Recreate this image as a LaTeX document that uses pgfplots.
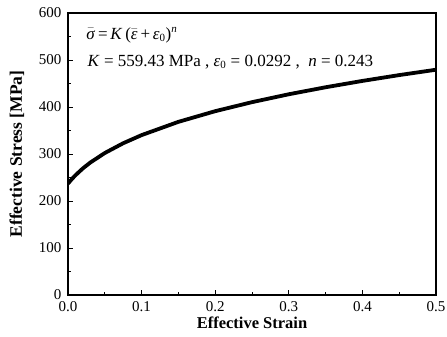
\documentclass[border=0pt]{standalone}
\usepackage{fontspec}
\setmainfont{Liberation Serif}
\usepackage{pgfplots}
\pgfplotsset{compat=1.18}
\begin{document}
\begin{tikzpicture}
\path[use as bounding box] (-68pt,-42pt) rectangle (379pt,295pt);
\begin{axis}[
  at={(0pt,0pt)}, anchor=south west,
  scale only axis,
  width=368pt, height=282pt,
  xmin=0, xmax=0.5, ymin=0, ymax=600,
  xtick={0,0.1,...,0.5},
  ytick={0,100,...,600},
  minor x tick num=1,
  minor y tick num=1,
  tick pos=left,
  tick align=inside,
  major tick length=5pt,
  minor tick length=3pt,
  axis line style={line width=1.2pt},
  every tick/.style={line width=0.8pt, black},
  tick label style={font=\fontsize{15}{16}\selectfont},
  xticklabel style={/pgf/number format/fixed, /pgf/number format/fixed zerofill, /pgf/number format/precision=1, yshift=-3pt},
  /pgf/number format/assume math mode=true,
  yticklabel style={/pgf/number format/fixed, xshift=-3pt},
  scaled x ticks=false,
  xlabel={\fontsize{16.5}{18}\selectfont\textbf{Effective Strain}},
  ylabel={\fontsize{17.5}{19}\selectfont\textbf{Effective Stress [MPa]}},
  xlabel style={at={(axis description cs:0.5,-0.0993)}, anchor=center},
  ylabel style={at={(axis description cs:-0.1386,0.5)}, anchor=center},
]
\addplot[black, line width=3.8pt] coordinates {
(0,237.0) (0.005,246.3) (0.01,254.6) (0.02,269.1) (0.03,281.5) (0.05,302.1)
(0.075,322.9) (0.1,340.2) (0.15,368.4) (0.2,391.1) (0.25,410.3) (0.3,427.1)
(0.35,442.0) (0.4,455.5) (0.45,467.9) (0.5,479.3)
};
\node[anchor=west, font=\fontsize{17}{19}\selectfont] at (axis cs:0.02,553) {$\bar{\mbox{\textit{σ}}}$\,=\,\textit{K}\,($\bar{\mbox{\textit{ε}}}$\,+\,\textit{ε}$_{\mbox{\fontsize{11}{12}\selectfont 0}}$)$^{\mbox{\fontsize{11}{12}\selectfont\textit{n}}}$};
\node[anchor=west, font=\fontsize{17}{19}\selectfont] at (axis cs:0.022,496) {\textit{K} = 559.43 MPa , \textit{ε}$_{\mbox{\fontsize{11}{12}\selectfont 0}}$ = 0.0292 , \ \textit{n} = 0.243};
\end{axis}
\end{tikzpicture}
\end{document}
